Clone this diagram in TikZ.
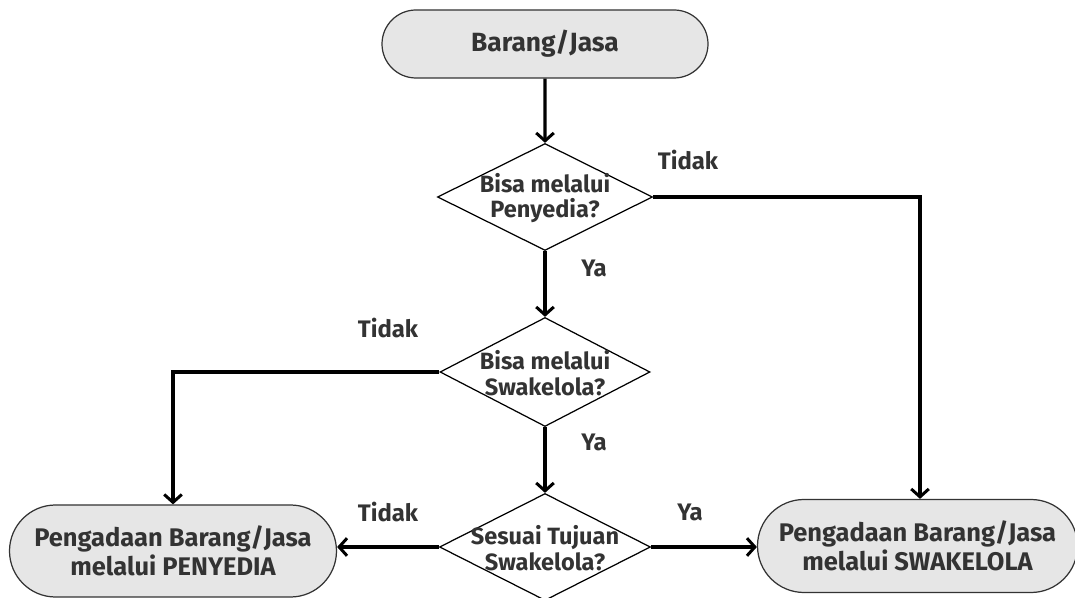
\documentclass[tikz,border=0pt]{standalone}
\usepackage{fontspec}
\setmainfont{Fira Sans}
\usetikzlibrary{shapes.geometric,shapes.misc,arrows.meta}
\definecolor{teks}{HTML}{333333}
\definecolor{isi}{HTML}{E6E6E6}
\begin{document}
\begin{tikzpicture}
\tikzset{ujung/.style={draw=teks, fill=isi, rounded rectangle, line width=0.7pt, text=teks, font=\bfseries\fontsize{14.5}{16.5}\selectfont, align=center, inner sep=0pt},
pilihan/.style={draw=black, diamond, line width=0.7pt, inner sep=0pt},
tanya/.style={text=teks, font=\bfseries\fontsize{13.4}{14.6}\selectfont, align=center},
ket/.style={text=teks, font=\bfseries\fontsize{13.6}{15}\selectfont},
panah/.style={line width=1.8pt, -{Straight Barb[length=4.5pt, width=10pt, line width=1.7pt]}}}
\useasboundingbox (0, 0) rectangle (21.5, -11.96);
\node[ujung, minimum width=6.52cm, minimum height=1.36cm] (A) at (10.9, -0.88) {\fontsize{15}{17}\selectfont Barang/Jasa};
\node[pilihan, minimum width=4.3cm, minimum height=2.14cm] (D1) at (10.9, -3.94) {};
\node[tanya] (T1) at (10.9, -3.96) {Bisa melalui\\Penyedia?};
\node[pilihan, minimum width=4.2cm, minimum height=2.18cm] (D2) at (10.9, -7.44) {};
\node[tanya] (T2) at (10.9, -7.46) {Bisa melalui\\Swakelola?};
\node[pilihan, minimum width=4.22cm, minimum height=2.14cm] (D3) at (10.9, -10.94) {};
\node[tanya] (T3) at (10.9, -10.96) {Sesuai Tujuan\\Swakelola?};
\node[ujung, minimum width=6.54cm, minimum height=1.84cm] (P) at (3.46, -11.02) {Pengadaan Barang/Jasa\\melalui PENYEDIA};
\node[ujung, minimum width=6.4cm, minimum height=1.86cm] (S) at (18.35, -10.92) {Pengadaan Barang/Jasa\\melalui SWAKELOLA};
\coordinate (K1) at (18.4, -3.94);
\coordinate (K2) at (3.46, -7.44);
\draw[panah] (A) -- (D1);
\draw[panah] (D1) -- (D2);
\draw[panah] (D2) -- (D3);
\draw[panah] (D1.east) -- (K1) -- (S.north -| K1);
\draw[panah] (D2.west) -- (K2) -- (P.north);
\draw[panah] (D3.west) -- (D3.west -| P.east);
\draw[panah] (D3.east) -- (D3.east -| S.west);
\node[ket] (L1) at (13.76, -3.2) {Tidak};
\node[ket] (L2) at (11.88, -5.36) {Ya};
\node[ket] (L3) at (7.76, -6.56) {Tidak};
\node[ket] (L4) at (11.88, -8.84) {Ya};
\node[ket] (L5) at (7.76, -10.24) {Tidak};
\node[ket] (L6) at (13.8, -10.24) {Ya};
\end{tikzpicture}
\end{document}
